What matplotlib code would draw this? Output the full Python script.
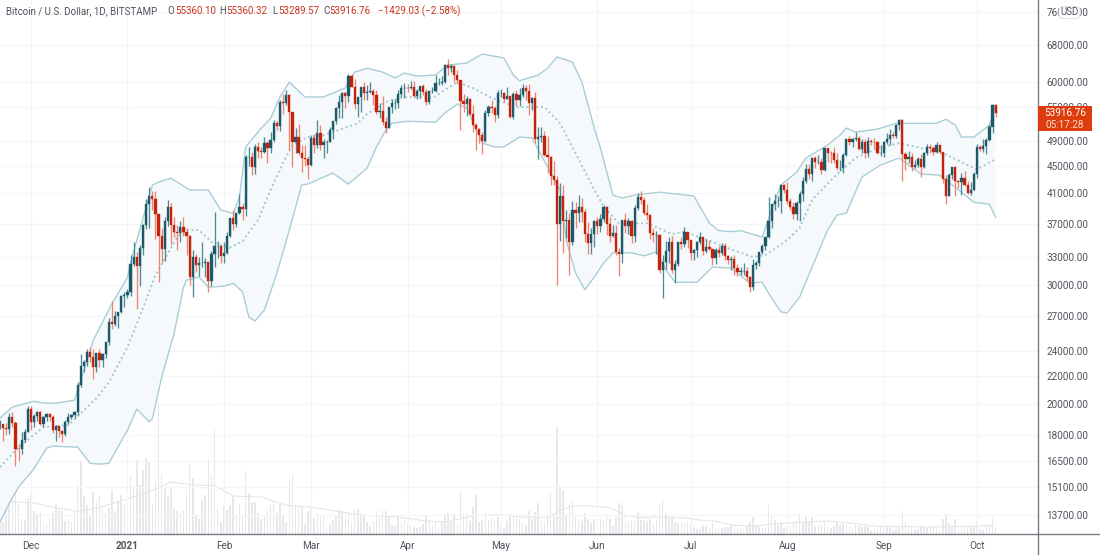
import numpy as np
import matplotlib
matplotlib.use('Agg')
import matplotlib.pyplot as plt
from matplotlib.lines import Line2D
from matplotlib.patches import Rectangle, FancyBboxPatch
from matplotlib.ticker import NullLocator

plt.rcParams['font.family'] = ['Roboto', 'DejaVu Sans']

# daily candles, 2020-11-21 .. 2021-10-07 (day 0 = 2020-12-01)
first_day = -10
first_open = 18660
closes = [
    18680, 18420, 18370, 19150, 18730, 17150, 17140, 17720, 18180, 19700,
    18790, 19220, 19440, 18700, 19150, 19370, 19170, 18320, 18550, 18250, 18040, 18800, 19170, 19270, 19440, 21350,
    22800, 23100, 23850, 23470, 22720, 23810, 23230, 23720, 24690, 26450, 26250, 27030, 27360, 28880, 28980,
    29350, 32190, 33000, 31970, 33990, 36800, 39500, 40600, 40250, 38200, 35500, 33900, 37300, 39150, 36800, 36000,
    35800, 36600, 35900, 35500, 30800, 33000, 32100, 32300, 32300, 32500, 30400, 33400, 34300, 34300, 33100,
    33500, 35500, 37700, 36900, 38300, 39200, 38900, 46400, 46500, 44800, 48000, 47400, 47200, 48700, 47900, 49150,
    52100, 51600, 55900, 55800, 57400, 54100, 48900, 49700, 47000, 46200, 46100, 45200,
    49600, 48400, 50400, 48400, 48800, 48900, 50900, 52400, 54900, 55900, 57800, 57200, 61200, 59000, 55600, 56900,
    58900, 57700, 58000, 58100, 57400, 54100, 54300, 52300, 51300, 55000, 55800, 55800, 57600, 58800, 58800,
    58700, 59000, 57100, 58200, 59100, 58000, 56000, 58100, 58100, 59800, 59800, 59900, 63600, 62900, 63200, 61400,
    60300, 56200, 55700, 56500, 53800, 51700, 51100, 50100, 49000, 54000, 55000, 54800, 53500, 57700,
    57800, 56600, 57200, 53200, 57500, 56400, 57300, 58800, 58200, 55800, 56700, 49400, 49700, 49900, 46700, 46400,
    43500, 42900, 37000, 40700, 37300, 37500, 34700, 38700, 38300, 39200, 38500, 35700, 34600, 35700, 37300,
    36700, 37600, 39200, 36900, 35500, 35800, 33600, 33400, 37400, 36700, 37300, 35500, 39000, 40500, 40100,
    38300, 38100, 35800, 35600, 35600, 31600, 32500, 33700, 34700, 31600, 32200, 34700, 34500, 35900, 35000,
    33500, 33800, 34700, 35300, 33700, 34200, 33900, 32900, 33800, 33500, 34300, 33100, 32700, 32800, 31800, 31400,
    31500, 31500, 30800, 29800, 32100, 32300, 33600, 34300, 35300, 37300, 39500, 40000, 40000, 42200, 41500,
    39900, 39200, 38200, 39700, 40900, 42800, 44600, 43800, 46300, 45600, 45600, 44400, 47800, 47100, 47000, 45900,
    44700, 44700, 46800, 49300, 48900, 49300, 49500, 47700, 48900, 47000, 49000, 48900, 48800, 47000, 47100,
    48800, 49300, 50000, 49900, 51800, 52700, 46900, 46100, 46400, 44800, 45200, 46100, 44900, 47100, 48100,
    47800, 47300, 48300, 47200, 43000, 40700, 43600, 44900, 42800, 42700, 43200, 42200, 41000, 41500, 43800,
    48100, 47700, 48200, 49200, 51500, 55360.10, 53916.76,
]
highs = [
    18960, 18700, 18770, 19420, 19480, 18910, 17460, 18180, 18350, 19850,
    19880, 19310, 19560, 19540, 19180, 19410, 19420, 19290, 18620, 18550, 18290, 18950, 19400, 19350, 19540, 21550,
    23760, 23280, 24150, 24280, 24100, 23830, 24100, 23790, 24750, 26800, 28400, 27500, 27400, 28990, 29300,
    29650, 33300, 34800, 33600, 34400, 36900, 40300, 41900, 41300, 41300, 38200, 36500, 37800, 40100, 39700, 37800,
    36800, 37300, 37800, 36400, 35600, 33800, 33400, 33000, 34800, 32900, 32500, 33700, 38500, 34900, 34300,
    34700, 36000, 37700, 38700, 38300, 40900, 39700, 46800, 48100, 47200, 48600, 48900, 48000, 49700, 49000, 50600,
    52600, 52500, 56300, 57500, 58350, 57500, 54200, 51300, 52000, 48400, 48400, 46600,
    50000, 50200, 52600, 51700, 49400, 49200, 51400, 52400, 55000, 57300, 58000, 58000, 61700, 61700, 60600, 56900,
    58900, 60000, 59400, 59900, 58600, 58400, 55800, 57200, 53200, 55100, 56600, 56600, 58400, 59400, 59800,
    59500, 60100, 60100, 58500, 59200, 59500, 58600, 58200, 58900, 61300, 60700, 61200, 63800, 64900, 63800, 63600,
    62500, 60400, 57500, 57100, 56800, 55400, 52100, 51200, 50500, 54400, 55500, 56400, 55200, 58400,
    58500, 57900, 58900, 57200, 58000, 58300, 58700, 59500, 59300, 59500, 57000, 58000, 51400, 51500, 50700, 49800,
    46600, 45800, 43500, 42500, 42200, 38800, 38300, 39900, 39800, 40800, 40400, 38900, 37200, 36400, 37500,
    37900, 38200, 39400, 39300, 37900, 36800, 36800, 34000, 37500, 38400, 37700, 37400, 39400, 41000, 41300,
    40500, 39500, 38200, 36400, 36100, 35700, 33300, 34900, 35300, 35500, 32700, 34700, 35300, 36600, 36000,
    35000, 33900, 34900, 35900, 35100, 35100, 35000, 33900, 34000, 34300, 34600, 34600, 33300, 33100, 33200, 32200,
    31900, 32400, 31900, 31000, 32800, 32600, 33600, 34500, 35400, 40500, 39500, 40900, 40600, 42300, 42300,
    42600, 40400, 39800, 39900, 41400, 43300, 45300, 45300, 46500, 46600, 46700, 46200, 47900, 47900, 47400, 48000,
    47100, 46000, 47000, 49400, 49800, 49500, 50500, 49900, 49300, 49300, 49700, 49300, 49600, 49000, 48300,
    49100, 50400, 51000, 50600, 51900, 52900, 52900, 47300, 47400, 47100, 45900, 46500, 46900, 47300, 48500,
    48500, 48200, 48800, 48400, 47300, 43600, 44000, 44900, 45000, 42900, 43900, 44300, 42800, 42600, 44100,
    48500, 48400, 49300, 49500, 51900, 55700, 55360.32,
]
lows = [
    18350, 17620, 18000, 18080, 18500, 16200, 16500, 16900, 17550, 18180,
    18330, 18520, 18900, 18600, 18510, 18900, 18900, 18150, 17650, 17900, 17570, 17950, 18720, 19000, 19050, 19280,
    21230, 22350, 22800, 23050, 21800, 22350, 22700, 22700, 23420, 24500, 25800, 26100, 25900, 27300, 27850,
    28700, 28950, 32000, 27700, 29900, 33300, 36300, 36500, 38700, 35100, 30300, 32400, 32600, 36700, 34400, 35400,
    33800, 34800, 35500, 33300, 30000, 28800, 31400, 30900, 31900, 30800, 29300, 29900, 31900, 32900, 32300,
    32300, 33400, 35300, 36200, 36600, 38200, 37400, 38000, 45000, 43700, 43800, 46300, 46300, 47000, 45500, 47000,
    48900, 50900, 50700, 53700, 55500, 47600, 44800, 47100, 46800, 44100, 45000, 43000,
    45000, 47100, 47900, 47500, 46300, 47100, 48900, 49300, 52000, 53000, 53000, 54900, 56000, 59000, 54600, 53200,
    54200, 56300, 56400, 57800, 55500, 53700, 53000, 51700, 50400, 51300, 53900, 54700, 54900, 57000, 56800,
    57900, 58500, 56900, 56500, 56700, 57400, 55500, 55700, 57700, 57900, 59300, 59400, 59800, 61300, 62000, 60000,
    59600, 50900, 54200, 53400, 53600, 50500, 47500, 48700, 46900, 48800, 53300, 53900, 52300, 53000,
    57000, 56000, 56500, 53000, 52900, 55200, 55300, 56900, 56300, 53600, 54500, 48700, 46100, 48800, 46600, 43900,
    42200, 42200, 30000, 34900, 33500, 35200, 31100, 34400, 36400, 37200, 37200, 34700, 33400, 33400, 34200,
    35700, 35900, 37200, 35600, 34800, 35300, 33300, 31000, 32400, 35800, 35700, 34600, 34800, 38800, 39500,
    38100, 37400, 35100, 34800, 33400, 31300, 28700, 31700, 32300, 31300, 30200, 32000, 33900, 34200, 34100,
    32700, 32700, 33000, 34500, 33200, 33500, 33800, 32100, 32200, 33000, 33200, 32700, 32200, 31600, 31100, 31000,
    31100, 31100, 30400, 29300, 29500, 31700, 32000, 33400, 33800, 35200, 36400, 38800, 39200, 38300, 41000,
    39500, 38700, 37600, 37500, 37300, 39900, 42500, 43100, 42800, 44700, 45300, 43800, 44200, 45600, 45500, 45500,
    44400, 44200, 43900, 46600, 48300, 48000, 49000, 47600, 47100, 46300, 46400, 48400, 47900, 46900, 46600,
    46500, 48600, 48400, 49500, 49500, 50900, 42800, 44400, 45500, 44200, 44700, 44800, 43400, 44700, 46700,
    47000, 46800, 47000, 46900, 42500, 39600, 40600, 43100, 40700, 41700, 40800, 42100, 40900, 40800, 41500,
    43200, 47400, 47200, 46900, 49000, 50400, 53289.57,
]
# volume, hundreds of BTC
volumes = [
    40, 36,
    96, 131, 100, 207, 89, 46, 41, 106, 119, 69, 61, 64, 26, 28, 44, 63, 89, 71, 68, 39, 44, 36, 69, 149, 223, 114, 86, 53,
    126, 95, 114, 76, 64, 78, 131, 68, 95, 116, 89, 96, 176, 143, 221, 146, 191, 228, 218, 86, 161, 401, 181, 136, 111, 136,
    76, 69, 64, 68, 121, 211, 169, 55, 46, 101, 116, 221, 176, 311, 74, 36, 86, 73, 86, 116, 56, 88, 56, 189, 123, 95,
    95, 63, 44, 56, 69, 86, 96, 64, 91, 56, 36, 169, 176, 86, 81, 83, 31, 68, 86, 49, 61, 56, 53, 21, 29, 41, 53, 71, 69,
    49, 61, 36, 76, 76, 59, 58,
    36, 25, 38, 68, 55, 70, 68, 50, 28, 23, 55, 35, 48, 30, 27, 20, 17, 22, 30, 55, 45, 27, 40, 20, 38, 60, 62, 35, 60, 30,
    130, 60, 60, 40, 80, 117, 37, 42, 62, 43, 47, 40, 50, 23, 17, 38, 60, 60, 55, 45, 32, 28, 68, 45, 65, 92, 40, 35, 60, 122,
    60, 320, 145, 132, 60, 95, 102, 60, 45, 40, 62, 45, 32, 45, 45, 45, 40, 60, 45, 25, 50, 92, 87, 55, 40, 40, 37, 65, 42, 42,
    40, 45, 30, 40, 87, 102, 60, 50, 52, 35, 33, 33, 33, 33, 30, 20, 15, 15, 25,
    25, 17, 32, 17, 17, 17, 20, 20, 28, 27, 22, 17, 15, 25, 35, 50, 27, 22, 17, 25, 88, 60, 42, 27, 35, 17, 20, 25, 35, 40,
    60, 35, 50, 35, 52, 23, 25, 27, 32, 22, 18, 25, 35, 27, 30, 27, 22, 17, 27, 25, 22, 23, 23, 10, 13, 22, 25, 25, 25, 25,
    12, 15, 20, 70, 35, 27, 27, 12, 15, 25, 18, 18, 20, 18, 17, 12, 45, 60, 32, 25, 45, 10, 20, 22, 25, 22, 25, 38, 15, 13,
    28, 28, 47, 22,
]
assert len(closes) == len(highs) == len(lows) == len(volumes), (len(closes), len(highs), len(lows), len(volumes))

# volume average
vol_ma_days = [-10, 1, 8, 15, 22, 33, 39, 45, 53, 59, 65, 74, 82, 90, 103, 108, 118, 128, 133, 143, 150, 158, 166, 170, 174,
               180, 186, 191, 196, 201, 209, 216, 220, 226, 233, 236, 247, 256, 265, 272, 279, 290, 300, 309]
vol_ma = [100, 93, 79, 68, 79, 111, 131, 156, 146, 146, 114, 111, 86, 81, 61, 56, 51, 38, 36, 56, 58, 51, 49, 71, 84,
          84, 79, 56, 49, 51, 49, 41, 38, 26, 24, 28, 35, 39, 31, 23, 22, 21, 23, 25]

# bollinger bands
upper_days = [-10, -6, 1, 4, 8, 14, 15, 20, 26, 31, 32, 39, 41, 45, 51, 57, 61, 65, 67, 69, 74, 77, 80, 83, 85, 88, 94, 101,
              104, 108, 113, 117, 120, 124, 130, 134, 140, 145, 152, 155, 157, 163, 166, 169, 174, 177, 181, 183, 187, 190,
              194, 202, 213, 218, 221, 225, 228, 235, 238, 241, 246, 249, 256, 260, 262, 265, 272, 278, 291, 294, 297, 299,
              303, 308, 310]
upper = [19060, 19800, 20200, 20070, 20070, 20270, 20960, 24850, 28150, 30800, 32400, 42190, 42620, 43200, 41490, 41490,
         38740, 38300, 40510, 48040, 51240, 52950, 56970, 59920, 58730, 56970, 56970, 58730, 62000, 62830, 62000, 60770,
         61800, 61170, 61390, 63520, 63950, 65950, 65050, 61390, 60200, 61390, 62830, 65280, 64170, 60000, 51240, 47860,
         40780, 40370, 40780, 41180, 40650, 37060, 36120, 36000, 36120, 35340, 38740, 42190, 44060, 46260, 48360, 50030,
         51240, 50540, 51060, 52080, 52080, 52790, 51770, 49700, 49700, 51770, 55420]
lower_days = [-10, -7, -4, 1, 5, 7, 15, 19, 22, 25, 31, 34, 38, 39, 42, 46, 49, 50, 54, 57, 62, 65, 68, 70, 72, 75, 77, 79,
              83, 87, 89, 97, 102, 108, 111, 114, 116, 121, 130, 133, 137, 140, 145, 149, 152, 157, 161, 170, 172, 175, 178,
              181, 184, 187, 193, 197, 201, 204, 207, 214, 219, 225, 231, 235, 237, 241, 243, 247, 251, 256, 259, 262, 267,
              273, 279, 286, 292, 299, 303, 308, 310]
lower = [13370, 14260, 15070, 16050, 17210, 17330, 17270, 16350, 16300, 16350, 18300, 19660, 18830, 19020, 21920, 25460,
         29790, 30500, 30840, 29790, 29890, 30190, 29320, 26900, 26540, 27550, 29320, 31250, 36190, 42190, 42340, 43950,
         42340, 44700, 48040, 50870, 52080, 52440, 52260, 53930, 55610, 54870, 48680, 48040, 48040, 49700, 49530, 41490,
         34920, 31250, 29540, 30840, 32340, 33490, 33490, 33150, 33600, 31580, 30300, 30300, 31900, 31790, 30210, 30300,
         29190, 27380, 27290, 28800, 31900, 36190, 38090, 38340, 43340, 45170, 46270, 43800, 43650, 41180, 39790, 39520,
         37830]
mid_days = [-10, -4, 4, 12, 16, 21, 25, 31, 36, 40, 44, 47, 50, 54, 58, 64, 68, 73, 77, 81, 84, 89, 94, 98, 105, 108, 114,
            120, 129, 137, 142, 148, 156, 165, 170, 176, 181, 184, 189, 198, 206, 210, 219, 225, 232, 236, 243, 247, 251,
            258, 265, 272, 279, 286, 293, 304, 310]
mid = [16130, 17270, 18490, 18610, 19390, 20410, 21520, 24290, 27750, 31040, 33430, 35340, 36190, 36190, 34760, 34090,
       34860, 37480, 41490, 45510, 48360, 49700, 50030, 50710, 52080, 53740, 56000, 56970, 56780, 59920, 58730, 56780,
       55050, 55050, 52080, 46090, 41490, 39280, 36940, 37060, 35700, 36000, 34760, 33880, 33010, 33230, 34990, 36440,
       40090, 43340, 46260, 47860, 48680, 47860, 47060, 44480, 46090]

price_ticks = [13700, 15100, 16500, 18000, 20000, 22000, 24000, 27000, 30000, 33000, 37000, 41000, 45000, 49000, 55000,
               60000, 68000, 76000]
month_days = [0, 31, 62, 90, 121, 151, 182, 212, 243, 274, 304]
month_labels = ['Dec', '2021', 'Feb', 'Mar', 'Apr', 'May', 'Jun', 'Jul', 'Aug', 'Sep', 'Oct']

UP, DOWN = '#1c5a6a', '#c5210b'
UP_WICK, DOWN_WICK = '#4f8997', '#ec8570'
BAND = '#a9ced6'
FILL = '#f6f9fb'
GRID = '#f5f5f7'
AXIS = '#787b86'
TEXT = '#50535e'

W, H = 1100, 555
fig = plt.figure(figsize=(W / 100, H / 100), dpi=100, facecolor='white')
rect = [0, (H - 534) / H, 1038 / W, 534 / H]

days = first_day + np.arange(len(closes))
closes = np.array(closes, dtype=float)
opens = np.r_[first_open, closes[:-1]]
is_up = closes >= opens

# volume sits in its own hidden axes underneath
ax_vol = fig.add_axes(rect)
ax_vol.bar(days, volumes, width=0.5, color='#e8e8ea', linewidth=0)
ax_vol.plot(vol_ma_days, vol_ma, color='#e6e6e8', lw=0.8)
ax_vol.set_ylim(0, 1602)
ax_vol.set_xlim(-9.96, 323.6)
ax_vol.axis('off')

ax = fig.add_axes(rect)
ax.patch.set_visible(False)
ax.set_yscale('log')
ax.set_ylim(12847, 79270)
ax.set_xlim(-9.96, 323.6)

ax.grid(True, color=GRID, lw=0.8)
ax.set_axisbelow(True)

# bands
ax.fill(list(upper_days) + lower_days[::-1], list(upper) + lower[::-1], color=FILL, lw=0, zorder=1)
ax.plot(upper_days, upper, color=BAND, lw=1.0, zorder=2, solid_joinstyle='round')
ax.plot(lower_days, lower, color=BAND, lw=1.0, zorder=2, solid_joinstyle='round')
ax.plot(mid_days, mid, color='#9fc8d1', lw=1.4, ls=(0, (1.0, 1.5)), zorder=2)

# candles
ax.vlines(days[is_up], np.array(lows)[is_up], np.array(highs)[is_up], color=UP_WICK, lw=0.95, zorder=3)
ax.vlines(days[~is_up], np.array(lows)[~is_up], np.array(highs)[~is_up], color=DOWN_WICK, lw=0.95, zorder=3)
body_lo = np.minimum(opens, closes)
body_hi = np.maximum(opens, closes)
ax.bar(days[is_up], (body_hi - body_lo)[is_up], bottom=body_lo[is_up], width=0.72, color=UP,
       edgecolor=UP, linewidth=0.25, zorder=4)
ax.bar(days[~is_up], (body_hi - body_lo)[~is_up], bottom=body_lo[~is_up], width=0.72, color=DOWN,
       edgecolor=DOWN, linewidth=0.25, zorder=4)

for side in ['top', 'left']:
    ax.spines[side].set_visible(False)
for side in ['right', 'bottom']:
    ax.spines[side].set_color(AXIS)
    ax.spines[side].set_linewidth(1.0)

ax.yaxis.tick_right()
ax.set_yticks(price_ticks)
ax.set_yticklabels([f'{v:.2f}' for v in price_ticks])
ax.yaxis.set_minor_locator(NullLocator())
ax.set_xticks(month_days)
ax.set_xticklabels(month_labels)
ax.tick_params(axis='both', length=0, labelcolor=TEXT, labelsize=7.2)
ax.tick_params(axis='y', pad=6)
ax.tick_params(axis='x', pad=5)
ax.get_xticklabels()[1].set_fontweight('bold')

# axis lines run on to the edges of the picture
fig.add_artist(Line2D([1038 / W, 1038 / W], [0, 21 / H], color=AXIS, lw=1.0))
fig.add_artist(Line2D([1038 / W, 1], [21 / H, 21 / H], color=AXIS, lw=1.0))


def put(x, y, s, **kw):
    kw.setdefault('fontsize', 7.0)
    kw.setdefault('color', TEXT)
    kw.setdefault('va', 'center')
    fig.text(x / W, 1 - y / H, s, **kw)


# last price label
fig.add_artist(Rectangle((1038 / W, 1 - 131 / H), 54 / W, 25 / H, color='#dd3c0c', lw=0))
put(1065, 113, '53916.76', color='white', ha='center', fontsize=7.2)
put(1065, 125, '05:17:28', color='#ffd9cc', ha='center', fontsize=7.2)

# currency badge
fig.add_artist(FancyBboxPatch((1059 / W, 1 - 18.5 / H), 21 / W, 12 / H, boxstyle='round,pad=0,rounding_size=0.004',
                              transform=fig.transFigure, facecolor='white', edgecolor='#e0e3eb', lw=0.8,
                              mutation_aspect=2, zorder=5))
put(1069.5, 12, 'USD', ha='center', fontsize=7.0, zorder=6)

# legend line
RED = '#c9331c'
put(6, 11, 'Bitcoin / U.S. Dollar, 1D, BITSTAMP')
for x, s, c in [(167, 'O', TEXT), (175, '55360.10', RED), (219, 'H', TEXT), (226, '55360.32', RED),
                (272, 'L', TEXT), (278, '53289.57', RED), (323, 'C', TEXT), (329, '53916.76', RED),
                (378, '−1429.03 (−2.58%)', RED)]:
    put(x, 11, s, color=c)

fig.savefig('out.png', dpi=100)
